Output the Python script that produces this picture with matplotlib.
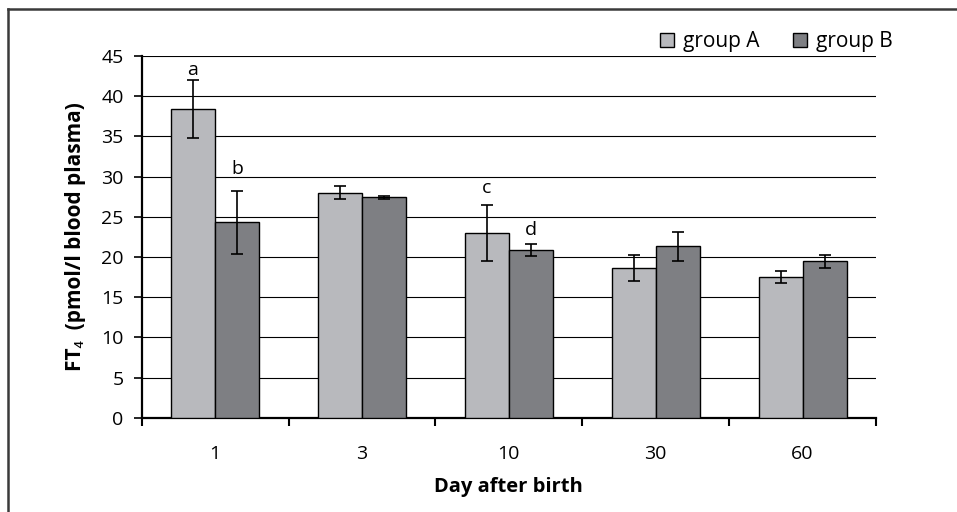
import numpy as np
import matplotlib
matplotlib.use("Agg")
import matplotlib.pyplot as plt
from matplotlib.lines import Line2D

plt.rcParams['font.family'] = ['Open Sans', 'Noto Sans', 'DejaVu Sans']

days = ["1", "3", "10", "30", "60"]
group_a = [38.4, 28.0, 23.0, 18.6, 17.5]
group_a_err = [3.6, 0.85, 3.5, 1.6, 0.75]
group_b = [24.3, 27.4, 20.9, 21.3, 19.45]
group_b_err = [3.9, 0.2, 0.75, 1.8, 0.85]
letters = ["a", "b", "c", "d"]
letter_x = [-0.15, 0.15, 1.85, 2.15]
letter_y = [42.6, 30.3, 28.0, 22.7]

fig = plt.figure(figsize=(9.57, 5.12), dpi=100)
ax = fig.add_axes([0.148, 0.1842, 0.7674, 0.7064])

x = np.arange(len(days))
w = 0.3
err_kw = dict(ecolor="black", elinewidth=1.2, capsize=4.5, capthick=1.2)
ax.bar(x - w/2, group_a, w, yerr=group_a_err, color="#b8b9bd", edgecolor="black",
       linewidth=1.0, label="group A", error_kw=err_kw, zorder=3)
ax.bar(x + w/2, group_b, w, yerr=group_b_err, color="#7e7f83", edgecolor="black",
       linewidth=1.0, label="group B", error_kw=err_kw, zorder=3)

for lt, lx, ly in zip(letters, letter_x, letter_y):
    ax.text(lx, ly, lt, ha="center", va="baseline", fontsize=14)

ax.set_xlim(-0.5, len(days) - 0.5)
ax.set_ylim(0, 45)
ax.set_yticks(np.arange(0, 46, 5))
ax.yaxis.grid(True, color="black", linewidth=0.8, zorder=0)
ax.set_axisbelow(True)

ax.set_xticks(x)
ax.set_xticklabels(days)
ax.set_xticks(np.arange(-0.5, len(days), 1), minor=True)
ax.tick_params(axis="x", which="major", length=0, pad=20, labelsize=14)
ax.tick_params(axis="x", which="minor", length=6, width=1.5, direction="out")
ax.tick_params(axis="y", length=6, width=1.2, pad=7, labelsize=14)

for s in ["top", "right"]:
    ax.spines[s].set_visible(False)
ax.spines["left"].set_linewidth(1.6)
ax.spines["bottom"].set_linewidth(1.6)

ax.set_xlabel("Day after birth", fontsize=14.5, fontweight="bold", labelpad=10)
ax.set_ylabel("FT\u2084  (pmol/l blood plasma)", fontsize=15, fontweight="bold", labelpad=11)

ax.legend(loc="center right", bbox_to_anchor=(893/957, 1 - 41.7/512),
          bbox_transform=fig.transFigure, ncol=2, frameon=False,
          fontsize=15, handlelength=0.67, handleheight=0.67, handletextpad=0.45,
          columnspacing=1.6, borderaxespad=0, borderpad=0)

# outer frame (only top and left edges fall inside the image)
fig.add_artist(Line2D([8/957, 8/957], [0, 1 - 9/512], transform=fig.transFigure,
                      color="#3a3a3a", linewidth=1.8))
fig.add_artist(Line2D([8/957, 1], [1 - 9/512, 1 - 9/512], transform=fig.transFigure,
                      color="#3a3a3a", linewidth=1.8))

fig.savefig("out.png", dpi=100)
